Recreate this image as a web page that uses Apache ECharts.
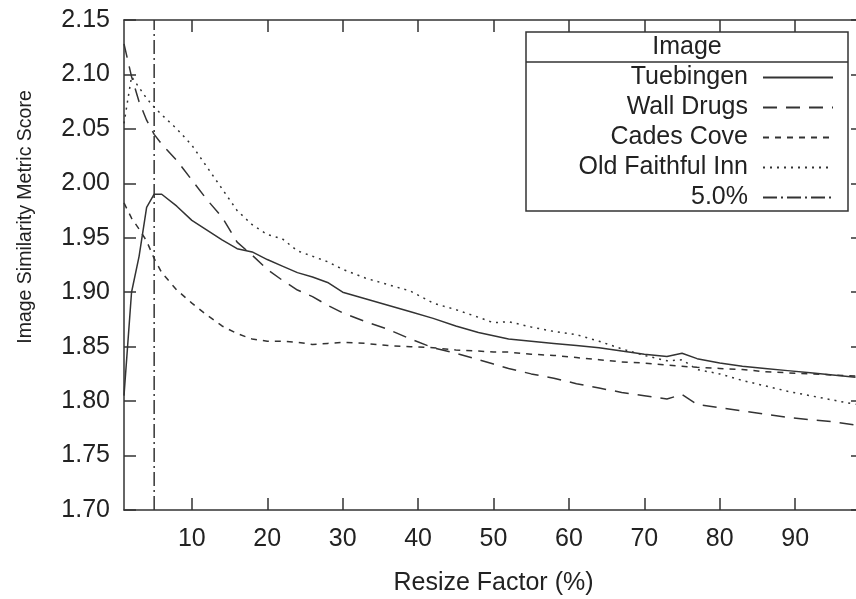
<!DOCTYPE html>
<html lang="en">

<head>
  <meta charset="UTF-8">
  <title>Image Similarity Metric Score</title>
  <style>
    body {
      margin: 0;
      background: #fff;
    }

    #main {
      width: 856px;
      height: 599px;
    }
  </style>
</head>

<body>
  <div id="main"></div>

  <script src="https://cdn.jsdelivr.net/npm/echarts@6/dist/echarts.min.js"></script>
  <script>
    // resize factor (%)
    const xs = [1, 2, 3, 4, 5, 6, 8, 10, 12, 14, 16, 18, 20, 22, 24, 26, 28, 30, 33, 36, 39, 42, 45, 48,
      50, 52, 55, 58, 61, 64, 67, 70, 73, 75, 77, 80, 83, 86, 89, 92, 95, 98];

    const tuebingen = [1.805, 1.900, 1.933, 1.978, 1.990, 1.990, 1.979, 1.966, 1.957, 1.948, 1.940, 1.937,
      1.930, 1.924, 1.918, 1.914, 1.909, 1.900, 1.894, 1.888, 1.882, 1.876, 1.869, 1.863,
      1.860, 1.857, 1.855, 1.853, 1.851, 1.849, 1.846, 1.843, 1.841, 1.844, 1.839, 1.835,
      1.832, 1.830, 1.828, 1.826, 1.824, 1.822];

    const wallDrugs = [2.128, 2.098, 2.075, 2.058, 2.045, 2.036, 2.021, 2.003, 1.985, 1.969, 1.946, 1.934,
      1.921, 1.911, 1.902, 1.896, 1.888, 1.881, 1.873, 1.866, 1.857, 1.849, 1.844, 1.838,
      1.834, 1.830, 1.825, 1.821, 1.816, 1.812, 1.808, 1.805, 1.802, 1.806, 1.797, 1.794,
      1.791, 1.788, 1.785, 1.783, 1.781, 1.778];

    const cadesCove = [1.982, 1.968, 1.958, 1.947, 1.931, 1.918, 1.902, 1.890, 1.879, 1.869, 1.862, 1.857,
      1.855, 1.855, 1.854, 1.852, 1.853, 1.854, 1.853, 1.851, 1.850, 1.849, 1.847, 1.846,
      1.845, 1.845, 1.843, 1.842, 1.840, 1.838, 1.836, 1.835, 1.833, 1.832, 1.831, 1.830,
      1.829, 1.827, 1.826, 1.825, 1.824, 1.823];

    const oldFaithful = [2.055, 2.098, 2.088, 2.078, 2.070, 2.063, 2.050, 2.035, 2.015, 1.995, 1.975, 1.962,
      1.953, 1.949, 1.938, 1.933, 1.928, 1.921, 1.913, 1.907, 1.901, 1.890, 1.884, 1.877,
      1.872, 1.873, 1.868, 1.864, 1.861, 1.855, 1.848, 1.842, 1.837, 1.838, 1.829, 1.825,
      1.819, 1.814, 1.809, 1.805, 1.801, 1.797];

    const cutoff = 5.0;
    const xTicks = [10, 20, 30, 40, 50, 60, 70, 80, 90];

    const ink = '#333';
    const textInk = '#222';
    const font = 'Liberation Sans, Arial, sans-serif';

    const pairs = ys => xs.map((x, i) => [x, ys[i]]);

    const xAxisBase = {
      type: 'value',
      min: 1,
      max: 99,
      axisLine: { lineStyle: { color: ink, width: 1.5 } },
      axisTick: { inside: true, length: 12, customValues: xTicks, lineStyle: { color: ink, width: 1.5 } },
      splitLine: { show: false },
    };
    const yAxisBase = {
      type: 'value',
      min: 1.70,
      max: 2.15,
      interval: 0.05,
      axisLine: { lineStyle: { color: ink, width: 1.5 } },
      axisTick: { inside: true, length: 12, lineStyle: { color: ink, width: 1.5 } },
      splitLine: { show: false },
    };

    const chart = echarts.init(document.getElementById('main'));

    function lineSeries(name, data, dash) {
      return {
        name,
        type: 'line',
        data,
        symbol: 'none',
        silent: true,
        itemStyle: { color: ink },
        lineStyle: { color: ink, width: 1.5, type: dash },
      };
    }

    chart.setOption({
      animation: false,
      textStyle: { fontFamily: font },
      grid: { left: 124, right: -7, top: 20, bottom: 89, outerBoundsMode: 'none' },
      xAxis: [
        {
          ...xAxisBase,
          position: 'bottom',
          name: 'Resize Factor (%)',
          nameLocation: 'middle',
          nameGap: 61,
          nameTextStyle: { fontSize: 25, color: textInk, fontFamily: font },
          axisLabel: { customValues: xTicks, margin: 17, fontSize: 25, color: textInk, fontFamily: font },
        },
        {
          ...xAxisBase,
          position: 'top',
          axisLabel: { show: false },
        },
      ],
      yAxis: [
        {
          ...yAxisBase,
          position: 'left',
          name: 'Image Similarity Metric Score',
          nameLocation: 'middle',
          nameGap: 88,
          nameTextStyle: { fontSize: 19.5, color: textInk, fontFamily: font, padding: [0, 0, 0, 96] },
          axisLabel: {
            margin: 14, fontSize: 25, color: textInk, fontFamily: font,
            formatter: v => v.toFixed(2),
          },
        },
        {
          ...yAxisBase,
          position: 'right',
          axisLabel: { show: false },
        },
      ],
      graphic: [
        {
          type: 'rect',
          shape: { x: 526, y: 32, width: 322, height: 179 },
          style: { fill: '#fff', stroke: ink, lineWidth: 1.5 },
          z: 10,
        },
        {
          type: 'line',
          shape: { x1: 526, y1: 62, x2: 848, y2: 62 },
          style: { stroke: ink, lineWidth: 1.5 },
          z: 11,
        },
        {
          type: 'text',
          x: 687,
          y: 47,
          style: {
            text: 'Image', fontSize: 25, fontFamily: font, fill: textInk,
            align: 'center', verticalAlign: 'middle',
          },
          z: 11,
        },
      ],
      legend: {
        orient: 'vertical',
        align: 'right',
        right: 22,
        top: 65,
        padding: 0,
        itemWidth: 70,
        itemHeight: 14,
        itemGap: 5,
        z: 12,
        selectedMode: false,
        itemStyle: { opacity: 0 },
        textStyle: { fontSize: 25, lineHeight: 22, color: textInk, fontFamily: font, padding: [0, 10, 0, 0] },
        data: ['Tuebingen', 'Wall Drugs', 'Cades Cove', 'Old Faithful Inn', '5.0%'],
      },
      series: [
        lineSeries('Tuebingen', pairs(tuebingen), 'solid'),
        lineSeries('Wall Drugs', pairs(wallDrugs), [14, 9]),
        lineSeries('Cades Cove', pairs(cadesCove), [6, 6]),
        lineSeries('Old Faithful Inn', pairs(oldFaithful), [2, 5]),
        lineSeries('5.0%', [[cutoff, 1.70], [cutoff, 2.15]], [14, 4, 2, 4]),
      ],
    });
  </script>
</body>

</html>
